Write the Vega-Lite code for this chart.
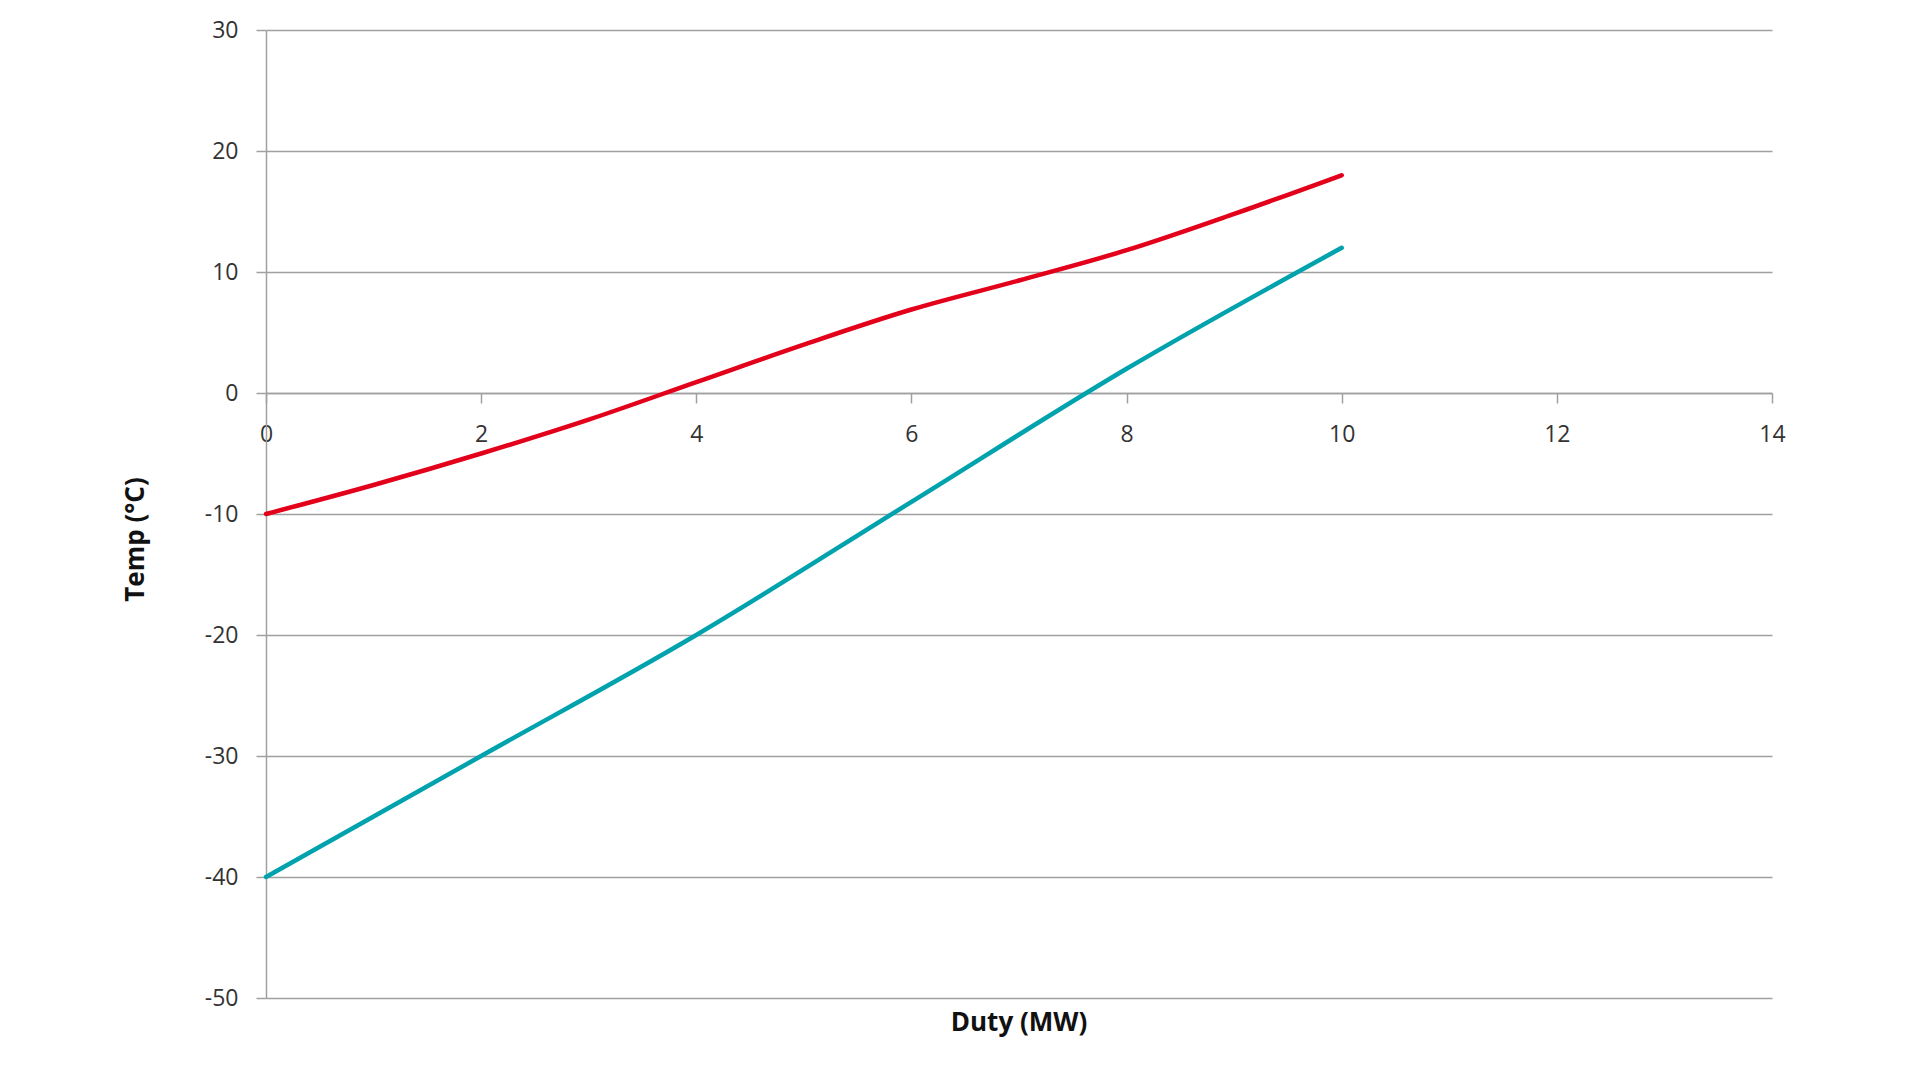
{
  "$schema": "https://vega.github.io/schema/vega-lite/v6.json",
  "width": 1506,
  "height": 968,
  "autosize": {"type": "none"},
  "padding": {"left": 266, "top": 30, "right": 148, "bottom": 82},
  "background": "#ffffff",
  "title": {
    "text": "Duty (MW)",
    "orient": "bottom",
    "anchor": "middle",
    "frame": "group",
    "font": "Liberation Sans Narrow, Open Sans",
    "fontSize": 26,
    "fontWeight": "bold",
    "color": "#111111",
    "offset": 0
  },
  "config": {
    "view": {"stroke": null},
    "axis": {
      "labelFont": "Open Sans",
      "labelFontSize": 23,
      "labelColor": "#333333",
      "domainColor": "#a0a0a0",
      "domainWidth": 1.5,
      "tickColor": "#a0a0a0",
      "tickWidth": 1.5,
      "tickSize": 10,
      "gridColor": "#a0a0a0",
      "gridWidth": 1.5,
      "gridOpacity": 1
    }
  },
  "data": {
    "values": [
      {"duty": 0, "temp": -10, "series": "hot"},
      {"duty": 1, "temp": -7.6, "series": "hot"},
      {"duty": 2, "temp": -5, "series": "hot"},
      {"duty": 3, "temp": -2.2, "series": "hot"},
      {"duty": 4, "temp": 0.9, "series": "hot"},
      {"duty": 5, "temp": 4, "series": "hot"},
      {"duty": 6, "temp": 6.9, "series": "hot"},
      {"duty": 7, "temp": 9.3, "series": "hot"},
      {"duty": 8, "temp": 11.8, "series": "hot"},
      {"duty": 9, "temp": 14.8, "series": "hot"},
      {"duty": 10, "temp": 18, "series": "hot"},
      {"duty": 0, "temp": -40, "series": "cold"},
      {"duty": 2, "temp": -30, "series": "cold"},
      {"duty": 4, "temp": -20, "series": "cold"},
      {"duty": 6, "temp": -9, "series": "cold"},
      {"duty": 8, "temp": 2, "series": "cold"},
      {"duty": 10, "temp": 12, "series": "cold"}
    ]
  },
  "mark": {"type": "line", "strokeWidth": 4.5, "interpolate": "monotone", "strokeCap": "round"},
  "encoding": {
    "x": {
      "field": "duty",
      "type": "quantitative",
      "scale": {"domain": [0, 14], "nice": false, "zero": false},
      "axis": {
        "title": null,
        "values": [0, 2, 4, 6, 8, 10, 12, 14],
        "grid": false,
        "offset": -605,
        "labelPadding": 20,
        "labelFlush": false
      }
    },
    "y": {
      "field": "temp",
      "type": "quantitative",
      "scale": {"domain": [-50, 30], "nice": false, "zero": false},
      "axis": {
        "title": "Temp (°C)",
        "titleFont": "Liberation Sans Narrow, Open Sans",
        "titleFontSize": 26,
        "titleFontWeight": "bold",
        "titleColor": "#111111",
        "titleAngle": -90,
        "titleX": -131,
        "titleY": 509,
        "titleAlign": "center",
        "titleBaseline": "middle",
        "values": [-50, -40, -30, -20, -10, 0, 10, 20, 30],
        "labelExpr": "'' + datum.value",
        "grid": true,
        "labelPadding": 18
      }
    },
    "color": {
      "field": "series",
      "type": "nominal",
      "scale": {"domain": ["hot", "cold"], "range": ["#e2001a", "#00a3ad"]},
      "legend": null
    }
  }
}
